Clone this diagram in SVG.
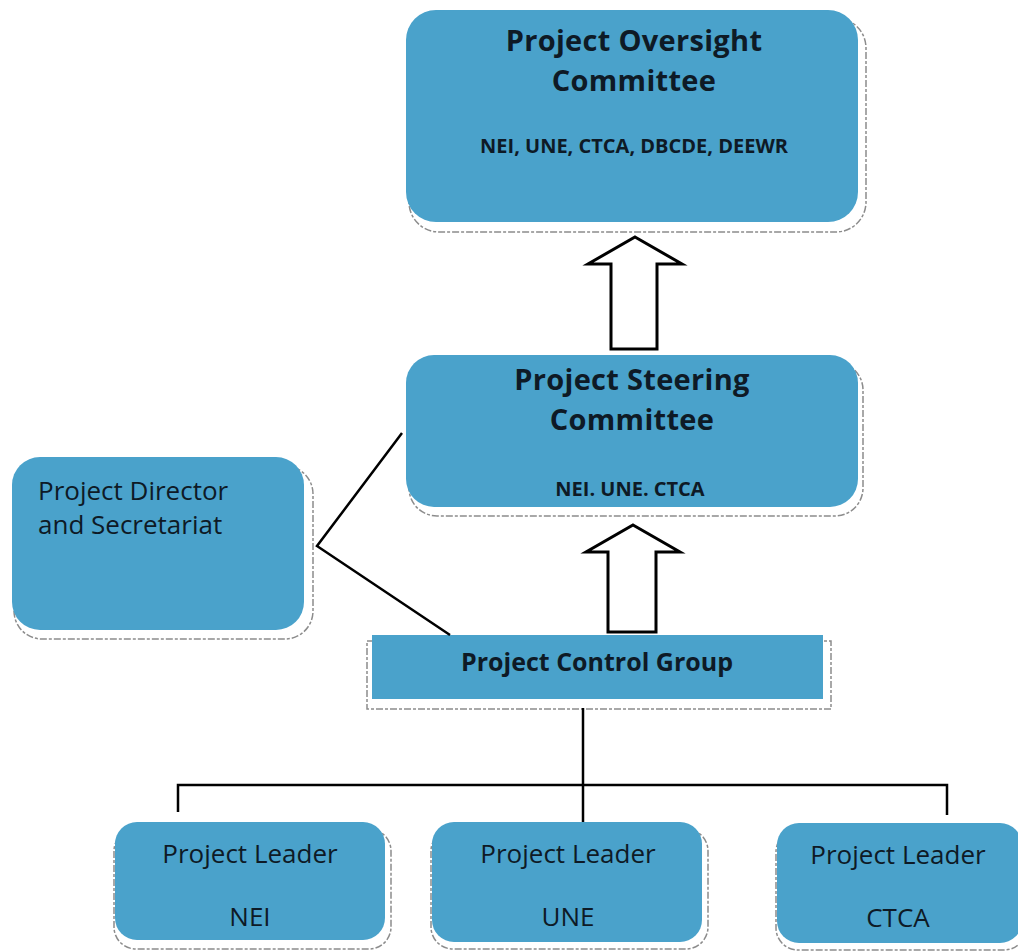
<svg xmlns="http://www.w3.org/2000/svg" width="1018" height="951" viewBox="0 0 1018 951">
<style>
.box{fill:#4aa2cb;}
.sh{fill:#ffffff;stroke:#8c8c8c;stroke-width:1.5;stroke-dasharray:7 2 3 2;}
.t{font-family:"Open Sans",Lato,"Liberation Sans",sans-serif;fill:#0e1a26;text-anchor:middle;}
.b{font-weight:bold;}
.con{fill:none;stroke:#000;stroke-width:2.5;}
.arr{fill:#ffffff;stroke:#000;stroke-width:3;stroke-linejoin:miter;}
</style>
<rect width="1018" height="951" fill="#ffffff"/>
<g id="oversight">
<rect class="sh" x="409" y="18" width="457" height="214" rx="30"/>
<rect class="box" x="406" y="10" width="452" height="212" rx="30"/>
<text class="t b" font-size="29" letter-spacing="0.3"><tspan x="634" y="51">Project Oversight</tspan><tspan x="634" y="91">Committee</tspan></text>
<text class="t b" x="634" y="153" font-size="20">NEI, UNE, CTCA, DBCDE, DEEWR</text>
</g>
<g id="steering">
<rect class="sh" x="409" y="362" width="454" height="154" rx="28"/>
<rect class="box" x="406" y="355" width="452" height="152" rx="28"/>
<text class="t b" font-size="29" letter-spacing="0.3"><tspan x="632" y="390">Project Steering</tspan><tspan x="632" y="430">Committee</tspan></text>
<text class="t b" x="630" y="496" font-size="20">NEI. UNE. CTCA</text>
</g>
<g id="director">
<rect class="sh" x="14" y="466" width="299" height="173" rx="28"/>
<rect class="box" x="12" y="457" width="292" height="173" rx="28"/>
<text class="t" x="38" y="500" font-size="26" style="text-anchor:start">Project Director</text>
<text class="t" x="38" y="534" font-size="26" style="text-anchor:start">and Secretariat</text>
</g>
<g id="control">
<rect class="sh" x="367" y="641" width="464" height="68" rx="0"/>
<rect class="box" x="372" y="635" width="451" height="64"/>
<text class="t b" x="597" y="671" font-size="25">Project Control Group</text>
</g>
<g id="leader-nei">
<rect class="sh" x="114" y="829" width="277" height="120" rx="22"/>
<rect class="box" x="115" y="822" width="270" height="118" rx="22"/>
<text class="t" x="250" y="863" font-size="26">Project Leader</text>
<text class="t" x="250" y="926" font-size="26">NEI</text>
</g>
<g id="leader-une">
<rect class="sh" x="431" y="829" width="277" height="120" rx="22"/>
<rect class="box" x="432" y="822" width="270" height="120" rx="22"/>
<text class="t" x="568" y="863" font-size="26">Project Leader</text>
<text class="t" x="568" y="926" font-size="26">UNE</text>
</g>
<g id="leader-ctca">
<rect class="sh" x="776" y="830" width="250" height="120" rx="22"/>
<rect class="box" x="777" y="823" width="245" height="120" rx="22"/>
<text class="t" x="898" y="864" font-size="26">Project Leader</text>
<text class="t" x="898" y="927" font-size="26">CTCA</text>
</g>
<g id="connectors">
<polygon class="arr" points="635,237 682,264 657,264 657,349 611,349 611,264 588,264"/>
<polygon class="arr" points="633,525 680,552 656,552 656,632 608,632 608,552 586,552"/>
<polyline class="con" points="402,433 317,546 450,635"/>
<line class="con" x1="583" y1="708" x2="583" y2="822"/>
<polyline class="con" points="178,812 178,785 947,785 947,815"/>
</g>
</svg>
